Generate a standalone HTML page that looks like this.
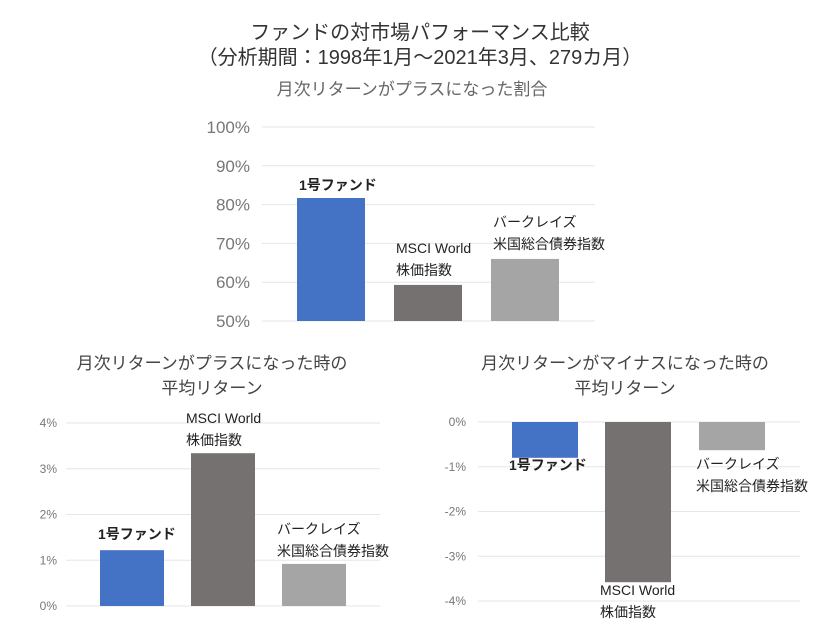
<!DOCTYPE html>
<html><head><meta charset="utf-8"><style>
body{margin:0;background:#fff;width:840px;height:632px;overflow:hidden}
text{font-family:"Liberation Sans","Noto Sans CJK JP",sans-serif}
</style></head><body>
<svg id="c" width="840" height="632" xmlns="http://www.w3.org/2000/svg">
<text x="420" y="39" text-anchor="middle" font-size="20" fill="#333">ファンドの対市場パフォーマンス比較</text>
<text x="420" y="64" text-anchor="middle" font-size="20" fill="#333">（分析期間：1998年1月～2021年3月、279カ月）</text>
<text x="412" y="95" text-anchor="middle" font-size="17" fill="#666">月次リターンがプラスになった割合</text>
<text x="212" y="369" text-anchor="middle" font-size="17" fill="#444">月次リターンがプラスになった時の</text>
<text x="212" y="394" text-anchor="middle" font-size="17" fill="#444">平均リターン</text>
<text x="625" y="369" text-anchor="middle" font-size="17" fill="#444">月次リターンがマイナスになった時の</text>
<text x="625" y="394" text-anchor="middle" font-size="17" fill="#444">平均リターン</text>
</svg>
<script>
const categories=["1号ファンド","MSCI World 株価指数","バークレイズ 米国総合債券指数"];
const topValues=[81.7,59.3,66.0];
const topTicks=[50,60,70,80,90,100];
const leftValues=[1.22,3.34,0.92];
const leftTicks=[0,1,2,3,4];
const rightValues=[-0.8,-3.58,-0.63];
const rightTicks=[0,-1,-2,-3,-4];
const colors=["#4472c4","#767171","#a5a5a5"];
const svg=document.getElementById('c');
const NS="http://www.w3.org/2000/svg";
function mk(t,a,txt){const e=document.createElementNS(NS,t);for(const k in a)e.setAttribute(k,a[k]);if(txt!=null)e.textContent=txt;svg.appendChild(e);return e;}
function labelLines(i){return i===0?["1号ファンド"]:i===1?["MSCI World","株価指数"]:["バークレイズ","米国総合債券指数"];}
function chart(cfg){
  const y=v=>cfg.y0+(v-cfg.vmin)/(cfg.vmax-cfg.vmin)*(cfg.y1-cfg.y0);
  cfg.ticks.forEach(t=>{
    const g=mk('line',{x1:cfg.xl,x2:cfg.xr,y1:y(t),y2:y(t),stroke:'#e6e6e6','stroke-width':1});
    
    
    const l=mk('text',{x:cfg.tx,y:y(t)+cfg.fs*0.35,'text-anchor':'end','font-size':cfg.fs,fill:'#777'},t+'%');
    
    
  });
  cfg.values.forEach((v,i)=>{
    const x=cfg.bx[i];
    const ya=y(cfg.base),yb=y(v);
    const r=mk('rect',{x:x,y:Math.min(ya,yb),width:cfg.bw,height:Math.abs(yb-ya),fill:colors[i]});
    
    
    const lines=labelLines(i);
    const pos=cfg.labelPos(i,x,ya,yb,lines.length);
    lines.forEach((s,j)=>{
      const t=mk('text',{x:pos[0],y:pos[1]+j*22,'font-size':14,fill:'#222','font-weight':i===0?'bold':'normal'},s);
      
      
    });
  });
}
chart({name:'top',values:topValues,ticks:topTicks,vmin:50,vmax:100,y0:321,y1:127,base:50,xl:262,xr:595,tx:250,fs:17,bx:[297,394,491],bw:68,
  labelPos:(i,x,ya,yb,n)=>i===0?[x+2,yb-8]:[x+2,yb-(n===2?32:10)]});
chart({name:'left',values:leftValues,ticks:leftTicks,vmin:0,vmax:4,y0:606,y1:423,base:0,xl:66,xr:380,tx:57,fs:12,bx:[100,191,282],bw:64,
  labelPos:(i,x,ya,yb,n)=>i===0?[x-2,yb-11]:[x-5,yb-(n===2?30:10)]});
chart({name:'right',values:rightValues,ticks:rightTicks,vmin:0,vmax:-4,y0:422,y1:601,base:0,xl:478,xr:800,tx:466,fs:12,bx:[512,605,699],bw:66,
  labelPos:(i,x,ya,yb,n)=>i===0?[x-3,yb+12]:i===1?[x-5,yb+13]:[x-3,yb+19]});
</script>
</body></html>
